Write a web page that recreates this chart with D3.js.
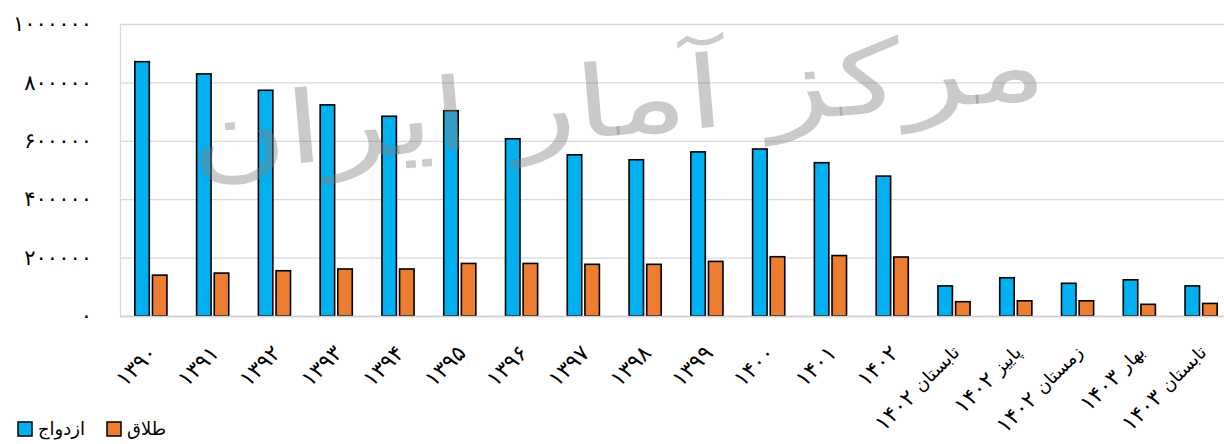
<!DOCTYPE html>
<html><head><meta charset="utf-8">
<script src="https://cdn.jsdelivr.net/npm/d3@7/dist/d3.min.js"></script>
<style>body{margin:0;background:#fff;}svg{display:block;}</style>
</head><body>
<svg id="c" width="1224" height="444"></svg>
<script>
const categories = ["۱۳۹۰","۱۳۹۱","۱۳۹۲","۱۳۹۳","۱۳۹۴","۱۳۹۵","۱۳۹۶","۱۳۹۷","۱۳۹۸","۱۳۹۹","۱۴۰۰","۱۴۰۱","۱۴۰۲","تابستان ۱۴۰۲","پاییز ۱۴۰۲","زمستان ۱۴۰۲","بهار ۱۴۰۳","تابستان ۱۴۰۳"];
const marriage = [871000, 829000, 773000, 723000, 684000, 703000, 607000, 552000, 535000, 562000, 572000, 525000, 479000, 103000, 131000, 112000, 124000, 103000];
const divorce = [140000, 147000, 155000, 161000, 161000, 180000, 180000, 177000, 177000, 187000, 203000, 207000, 202000, 49000, 52000, 52000, 40000, 43000];
const seriesNames = ["ازدواج", "طلاق"];
const seriesColors = ["#00B0F0", "#ED7D31"];
const yTicks = [0, 200000, 400000, 600000, 800000, 1000000];
const watermarkText = "مرکز آمار ایران";

(function () {
const fa = v => String(v).replace(/\d/g, d => "۰۱۲۳۴۵۶۷۸۹"[+d]);
const FONT = "'DejaVu Sans', sans-serif";
const DIGIT_SIZE = 21, DIGIT_LS = 5.5;

const svg = d3.select("#c");
const pLeft = 120, pRight = 1232, pTop = 24, pBottom = 316;

const x0 = d3.scaleBand().domain(categories).range([pLeft, pRight]).padding(0);
const groupW = x0.bandwidth() * 0.52;
const x1 = d3.scaleBand().domain(seriesNames).range([0, groupW]).paddingInner(0.18).paddingOuter(0);
const y = d3.scaleLinear().domain([0, 1000000]).range([pBottom, pTop]);

// gridlines + y labels
const yAxis = d3.axisLeft(y).tickValues(yTicks).tickSize(-(1224 - pLeft)).tickFormat(fa).tickPadding(28);
const gy = svg.append("g").attr("transform", `translate(${pLeft},0)`).call(yAxis);
gy.select(".domain").attr("stroke", "#d9d9d9").attr("stroke-width", 1.2);
gy.selectAll(".tick line").attr("stroke", "#d9d9d9").attr("stroke-width", 1.3);
gy.selectAll(".tick text").attr("font-family", FONT).attr("font-size", DIGIT_SIZE)
  .attr("letter-spacing", DIGIT_LS).attr("fill", "#000");

const data = categories.map((c, i) => ({cat: c, vals: [marriage[i], divorce[i]]}));

const groups = svg.append("g").selectAll("g").data(data).join("g")
  .attr("transform", d => `translate(${x0(d.cat) + (x0.bandwidth() - groupW) / 2},0)`);
groups.selectAll("rect").data(d => d.vals.map((v, k) => ({v, k})))
  .join("rect")
  .attr("x", d => x1(seriesNames[d.k]))
  .attr("width", x1.bandwidth())
  .attr("y", d => y(d.v))
  .attr("height", d => y(0) - y(d.v))
  .attr("fill", d => seriesColors[d.k])
  .attr("stroke", "#000")
  .attr("stroke-width", 1.6);

// baseline
const xAxis = d3.axisBottom(x0).tickSize(0).tickFormat("");
const gx = svg.append("g").attr("transform", `translate(0,${pBottom})`).call(xAxis);
gx.select(".domain").attr("stroke", "#d0d0d0").attr("stroke-width", 1.6);

// category labels (rotated, word part then number part along the same line)
const lab = svg.append("g").selectAll("g").data(categories).join("g")
  .attr("transform", d => `translate(${x0(d) + x0.bandwidth() / 2 + 2},${pBottom + 33}) rotate(-45)`);
lab.each(function (d) {
  const g = d3.select(this);
  const parts = d.split(" ");
  let offset = 0;
  if (parts.length > 1) {
    const w = g.append("text").attr("text-anchor", "end").attr("dy", "0.35em")
      .attr("font-family", FONT).attr("font-size", 18).attr("fill", "#000").text(parts[0]);
    offset = w.node().getComputedTextLength() + 7;
  }
  g.append("text").attr("text-anchor", "end").attr("dy", "0.35em")
    .attr("x", -offset)
    .attr("font-family", FONT).attr("font-size", 22)
    .attr("letter-spacing", 6).attr("fill", "#000")
    .text(parts[parts.length - 1]);
});

// watermark
svg.append("text")
  .attr("transform", "translate(620,135) rotate(-5)")
  .attr("text-anchor", "middle")
  .attr("font-family", FONT)
  .attr("font-size", 100)
  .attr("textLength", 860)
  .attr("lengthAdjust", "spacingAndGlyphs")
  .attr("fill", "#808080")
  .attr("fill-opacity", 0.42)
  .text(watermarkText);

// legend
const legX = [18, 107], legTextX = [38, 127];
const leg = svg.append("g");
seriesNames.forEach((s, k) => {
  leg.append("rect").attr("x", legX[k]).attr("y", 422).attr("width", 14).attr("height", 14)
    .attr("fill", seriesColors[k]).attr("stroke", "#000").attr("stroke-width", 1.5);
  leg.append("text").attr("x", legTextX[k]).attr("y", 435)
    .attr("font-family", FONT).attr("font-size", 18).attr("fill", "#000")
    .attr("text-anchor", "start").text(s);
});
})();
</script>
</body></html>
